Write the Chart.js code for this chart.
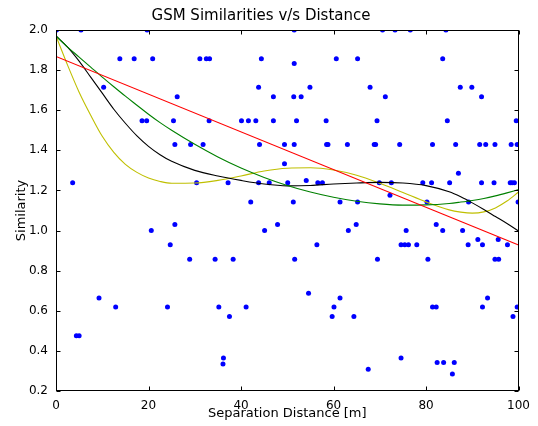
<!DOCTYPE html>
<html>
<head>
<meta charset="utf-8">
<script src="https://cdn.jsdelivr.net/npm/chart.js@4.4.1/dist/chart.umd.min.js"></script>
<style>
  html, body { margin: 0; padding: 0; background: #ffffff; }
  canvas { display: block; }
</style>
</head>
<body>
<canvas id="chart" width="538" height="426"></canvas>
<script>
// Measured pairs: separation distance (m) and GSM similarity
const distance = [
  0.1, 5.4, 19.7, 51.5, 70.6, 73.3, 76.6, 84.3,
  13.8, 16.9, 20.9, 31.1, 32.5, 33.2, 44.4, 60.6, 65.2, 83.6,
  51.5,
  10.3, 43.8, 54.9, 67.9, 87.4, 89.9,
  26.2, 47.0, 51.4, 53.0, 71.2, 92.0,
  18.6, 19.6, 25.4, 33.1, 40.1, 41.6, 43.2, 47.0, 52.0, 58.4, 69.4, 84.6, 99.5,
  25.7, 29.1, 31.8, 44.0, 49.4, 51.5, 58.5, 58.8, 63.0, 68.8, 69.1, 74.3, 81.4, 86.4, 91.6, 92.9, 94.9, 98.4, 99.7,
  49.4, 87.0, 54.1,
  3.6, 30.4, 37.2, 43.8, 46.1, 50.1, 56.6, 57.6, 69.9, 72.5, 79.3, 81.2, 85.1, 92.0, 94.7, 98.2, 98.6, 99.1,
  72.2,
  42.1, 51.3, 61.4, 65.2, 80.2, 89.2, 99.9,
  25.7, 47.9, 64.9, 82.2,
  20.6, 45.1, 63.2, 75.7, 83.6, 87.9,
  91.2, 95.6,
  24.7, 56.4, 74.6, 75.4, 76.2, 78.0, 89.1, 92.2, 97.6,
  28.9, 34.4, 38.3, 51.6, 69.5, 80.4, 94.9, 95.7,
  54.6,
  9.3, 61.4, 93.3,
  12.9, 24.1, 35.2, 41.1, 60.1, 81.4, 82.2, 92.2, 99.7,
  37.5, 59.7, 64.4, 98.8,
  4.4, 5.0,
  36.2, 74.6,
  82.4, 83.8, 86.1,
  36.1, 67.5, 85.7
];
const similarity = [
  2.0, 2.0, 2.0, 2.0, 2.0, 2.0, 2.0, 2.0,
  1.857, 1.857, 1.857, 1.857, 1.857, 1.857, 1.857, 1.857, 1.857, 1.857,
  1.833,
  1.714, 1.714, 1.714, 1.714, 1.714, 1.714,
  1.667, 1.667, 1.667, 1.667, 1.667, 1.667,
  1.548, 1.548, 1.548, 1.548, 1.548, 1.548, 1.548, 1.548, 1.548, 1.548, 1.548, 1.548, 1.548,
  1.429, 1.429, 1.429, 1.429, 1.429, 1.429, 1.429, 1.429, 1.429, 1.429, 1.429, 1.429, 1.429, 1.429, 1.429, 1.429, 1.429, 1.429, 1.429,
  1.333, 1.286, 1.25,
  1.238, 1.238, 1.238, 1.238, 1.238, 1.238, 1.238, 1.238, 1.238, 1.238, 1.238, 1.238, 1.238, 1.238, 1.238, 1.238, 1.238, 1.238,
  1.176,
  1.143, 1.143, 1.143, 1.143, 1.143, 1.143, 1.143,
  1.03, 1.03, 1.03, 1.03,
  1.0, 1.0, 1.0, 1.0, 1.0, 1.0,
  0.955, 0.955,
  0.929, 0.929, 0.929, 0.929, 0.929, 0.929, 0.929, 0.929, 0.929,
  0.857, 0.857, 0.857, 0.857, 0.857, 0.857, 0.857, 0.857,
  0.687,
  0.664, 0.664, 0.664,
  0.619, 0.619, 0.619, 0.619, 0.619, 0.619, 0.619, 0.619, 0.619,
  0.571, 0.571, 0.571, 0.571,
  0.476, 0.476,
  0.365, 0.365,
  0.342, 0.342, 0.342,
  0.335, 0.308, 0.285
];

// Straight-line trend: end points
const linearX = [0, 100];
const linearY = [1.868, 0.928];

// Curved trends, read at shared distances
const fitX = [0, 2.5, 5, 7.5, 10, 12.5, 15, 17.5, 20, 22.5, 25, 30, 35, 40, 45, 50, 55, 60, 65, 70, 75, 80, 85, 87.5, 90, 92.5, 95, 97.5, 100];
const fitGreen  = [1.97, 1.915, 1.865, 1.815, 1.765, 1.717, 1.670, 1.625, 1.580, 1.538, 1.500, 1.430, 1.367, 1.312, 1.265, 1.225, 1.192, 1.166, 1.146, 1.133, 1.127, 1.128, 1.135, 1.142, 1.150, 1.160, 1.173, 1.188, 1.204];
const fitBlack  = [1.97, 1.915, 1.845, 1.765, 1.685, 1.605, 1.535, 1.472, 1.420, 1.378, 1.345, 1.300, 1.272, 1.250, 1.232, 1.223, 1.225, 1.232, 1.237, 1.240, 1.237, 1.224, 1.193, 1.168, 1.138, 1.105, 1.070, 1.035, 0.998];
const fitYellow = [1.97, 1.825, 1.690, 1.575, 1.470, 1.390, 1.330, 1.290, 1.262, 1.245, 1.236, 1.237, 1.250, 1.272, 1.297, 1.311, 1.313, 1.302, 1.276, 1.236, 1.190, 1.143, 1.103, 1.092, 1.087, 1.093, 1.113, 1.147, 1.192];

const xTicks = [0, 20, 40, 60, 80, 100];
const yTicks = [0.2, 0.4, 0.6, 0.8, 1.0, 1.2, 1.4, 1.6, 1.8, 2.0];

const FONT = 'DejaVu Sans';

const pairs = (xs, ys) => xs.map((v, i) => ({ x: v, y: ys[i] }));

function trendDataset(xs, values, color) {
  return {
    type: 'line',
    data: pairs(xs, values),
    borderColor: color,
    borderWidth: 1.1,
    pointRadius: 0,
    fill: false,
    cubicInterpolationMode: 'monotone',
    clip: 0
  };
}

// Box frame with inward tick marks on all four sides
const frameTicks = {
  id: 'frameTicks',
  afterDatasetsDraw(chart) {
    const { ctx, chartArea: a, scales: { x, y } } = chart;
    const len = 4;
    const L = Math.round(a.left) + 0.5, R = Math.round(a.right) - 0.5;
    const T = Math.round(a.top) + 0.5, B = Math.round(a.bottom) - 0.5;
    ctx.save();
    ctx.strokeStyle = '#000';
    ctx.lineWidth = 1;
    ctx.beginPath();
    xTicks.forEach(v => {
      const p = Math.round(x.getPixelForValue(v)) + 0.5;
      ctx.moveTo(p, B); ctx.lineTo(p, B - len);
      ctx.moveTo(p, T); ctx.lineTo(p, T + len);
    });
    yTicks.forEach(v => {
      const p = Math.round(y.getPixelForValue(v)) + 0.5;
      ctx.moveTo(L, p); ctx.lineTo(L + len, p);
      ctx.moveTo(R, p); ctx.lineTo(R - len, p);
    });
    ctx.stroke();
    ctx.strokeRect(L, T, R - L, B - T);
    ctx.restore();
  }
};

new Chart(document.getElementById('chart'), {
  type: 'scatter',
  data: {
    datasets: [
      trendDataset(linearX, linearY, '#ff0000'),
      trendDataset(fitX, fitGreen, '#008000'),
      trendDataset(fitX, fitBlack, '#000000'),
      trendDataset(fitX, fitYellow, '#bfbf00'),
      {
        type: 'scatter',
        data: pairs(distance, similarity),
        backgroundColor: '#0000ff',
        borderWidth: 0,
        pointRadius: 2.5,
        clip: 0
      }
    ]
  },
  options: {
    responsive: false,
    devicePixelRatio: 1,
    animation: false,
    layout: { padding: { top: 1, right: 16, bottom: 0, left: 0 } },
    plugins: {
      legend: { display: false },
      tooltip: { enabled: false },
      title: {
        display: true,
        text: 'GSM Similarities v/s Distance',
        color: '#000',
        font: { family: FONT, size: 15, weight: 'normal' },
        padding: { top: 6, bottom: 5 }
      }
    },
    scales: {
      x: {
        type: 'linear',
        min: 0,
        max: 100,
        grid: { display: false, drawTicks: false, tickLength: 0 },
        border: { display: false },
        afterBuildTicks: s => { s.ticks = xTicks.map(v => ({ value: v })); },
        ticks: {
          color: '#000',
          font: { family: FONT, size: 12 },
          padding: 8,
          maxRotation: 0,
          callback: v => String(v)
        },
        title: {
          display: true,
          text: 'Separation Distance [m]',
          color: '#000',
          font: { family: FONT, size: 13 },
          padding: { top: 0, bottom: 5 }
        },
        afterFit: s => { s.height = 35; }
      },
      y: {
        type: 'linear',
        min: 0.2,
        max: 2.0,
        grid: { display: false, drawTicks: false, tickLength: 0 },
        border: { display: false },
        afterBuildTicks: s => { s.ticks = yTicks.map(v => ({ value: v })); },
        ticks: {
          color: '#000',
          font: { family: FONT, size: 12 },
          padding: 8,
          callback: v => Number(v).toFixed(1)
        },
        title: {
          display: true,
          text: 'Similarity',
          color: '#000',
          font: { family: FONT, size: 13 },
          padding: { top: 14, bottom: 0 }
        },
        afterFit: s => { s.width = 56; }
      }
    }
  },
  plugins: [frameTicks]
});
</script>
</body>
</html>
